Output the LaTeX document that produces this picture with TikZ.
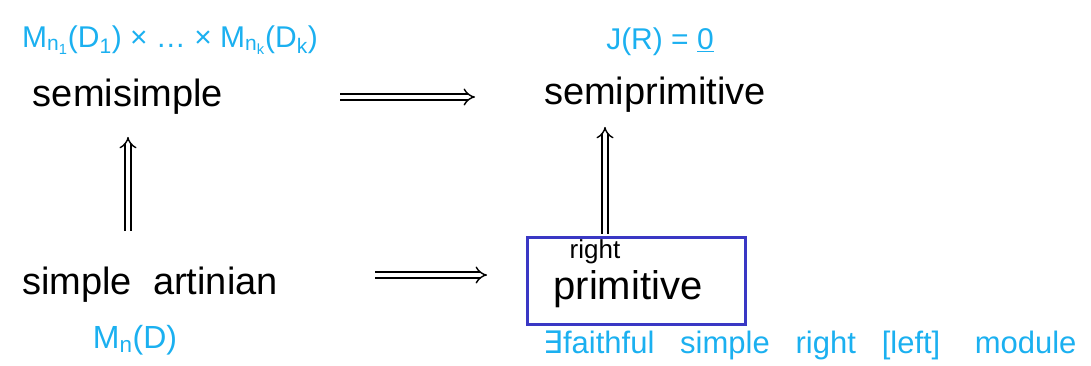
\documentclass[tikz,border=0pt]{standalone}
\usepackage{fontspec}
\setmainfont{Liberation Sans}
\newfontfamily\symfont{DejaVu Sans}
\usetikzlibrary{arrows.meta}
\definecolor{hblue}{HTML}{1BB0F0}
\definecolor{boxblue}{HTML}{3A38C4}
\tikzset{
  word/.style={inner sep=0pt, font=\fontsize{38}{40}\selectfont, text=black},
  note/.style={inner sep=0pt, font=\fontsize{30}{32}\selectfont, text=hblue},
  dimp/.style={double, double distance=4.5pt, line width=1.4pt, draw=black, -{Implies}},
  framebox/.style={draw=boxblue, line width=3pt, minimum width=218pt, minimum height=87pt, inner sep=0pt}
}
\begin{document}
\begin{tikzpicture}[x=1pt,y=-1pt]
\useasboundingbox (0,0) rectangle (1091,365);
\node[note] (mk) at (170,40) {M\textsubscript{n\textsubscript{1}}(D\textsubscript{1}) × … × M\textsubscript{n\textsubscript{k}}(D\textsubscript{k})};
\node[word] (ss) at (128,97) {semisimple};
\node[note] (jr) at (660,42) {J(R) = \underline{0}};
\node[word] (sp) at (655,95) {semiprimitive};
\node[word] (sa) at (150,285) {simple\ \ artinian};
\node[note, font=\fontsize{32}{34}\selectfont] (mn) at (135,340) {M\textsubscript{n}(D)};
\node[framebox] (box) at (636,280.5) {};
\node[word, font=\fontsize{26}{28}\selectfont] (rt) at (595,252) {right};
\node[word, font=\fontsize{40}{42}\selectfont] (pr) at (628,289) {primitive};
\node[note, font=\fontsize{31}{33}\selectfont] (ff) at (810,345) {{\symfont ∃}faithful\ \ \ simple\ \ \ right\ \ \ [left]\ \ \ \ module};
\coordinate (t1) at (340,97);
\coordinate (t2) at (475,97);
\coordinate (b1) at (375,275);
\coordinate (b2) at (487,275);
\draw[dimp] (t1) -- (t2);
\draw[dimp] (b1) -- (b2);
\draw[dimp] ([xshift=-22pt,yshift=36pt]sa.north) -- ([xshift=0pt,yshift=-22pt]ss.south);
\draw[dimp] ([xshift=-31pt,yshift=2pt]box.north) -- ([xshift=-50pt,yshift=-14pt]sp.south);
\end{tikzpicture}
\end{document}
